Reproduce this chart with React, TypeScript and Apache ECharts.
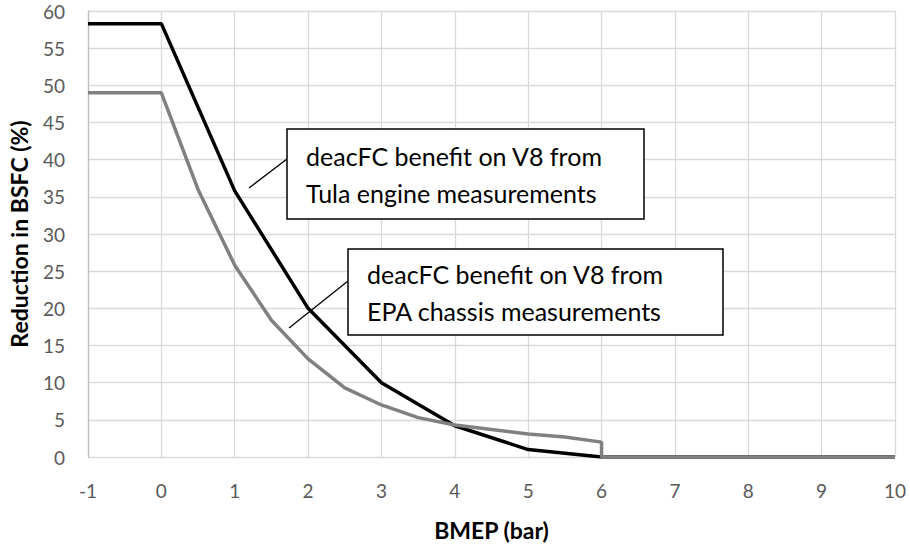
import React, { useEffect, useRef } from "react";
import * as echarts from "echarts";

const tulaX = [-1, 0, 1, 2, 3, 4, 5, 6, 10];
const tulaY = [58.3, 58.3, 35.8, 20.0, 10.0, 4.2, 1.0, 0, 0];
const epaX = [-1, 0, 0.5, 1, 1.5, 2, 2.5, 3, 3.5, 4, 5, 5.5, 6, 6, 10];
const epaY = [49, 49, 36, 25.8, 18.4, 13.2, 9.3, 7.0, 5.3, 4.3, 3.1, 2.7, 2.0, 0, 0];
const annotation1 = ["deacFC benefit on V8 from", "Tula engine measurements"];
const annotation2 = ["deacFC benefit on V8 from", "EPA chassis measurements"];

const FONT = "Lato, 'Liberation Sans', sans-serif";

export default function App() {
  const ref = useRef<HTMLDivElement>(null);
  useEffect(() => {
    if (!ref.current) return;
    const chart = echarts.init(ref.current, null, { renderer: "svg" });
    const box = (x: number, y: number, w: number, h: number, lines: string[], lx1: number, ly1: number, lx2: number, ly2: number) => ({
      type: "group",
      children: [
        { type: "line", shape: { x1: lx1, y1: ly1, x2: lx2, y2: ly2 }, style: { stroke: "#000", lineWidth: 1.3 }, z: 100 },
        { type: "rect", shape: { x, y, width: w, height: h }, style: { fill: "#fff", stroke: "#000", lineWidth: 1.5 }, z: 100 },
        {
          type: "text",
          x: x + 19,
          y: y + h / 2,
          style: { text: lines.join("\n"), font: `25px ${FONT}`, fill: "#000", verticalAlign: "middle", align: "left", lineHeight: 37 },
          z: 101,
        },
      ],
    });
    chart.setOption({
      animation: false,
      backgroundColor: "#fff",
      grid: { left: 88, right: 15, top: 11, bottom: 91, containLabel: false, outerBoundsMode: "none" },
      xAxis: {
        type: "value",
        min: -1,
        max: 10,
        interval: 1,
        name: "BMEP (bar)",
        nameLocation: "middle",
        nameGap: 61,
        nameTextStyle: { fontFamily: FONT, fontSize: 23, fontWeight: "bold", color: "#000" },
        axisLine: { show: false },
        axisTick: { show: false },
        axisLabel: { fontFamily: FONT, fontSize: 19, color: "#595959", margin: 24 },
        splitLine: { show: true, lineStyle: { color: "#d9d9d9", width: 1.3 } },
      },
      yAxis: {
        type: "value",
        min: 0,
        max: 60,
        interval: 5,
        name: "Reduction in BSFC (%)",
        nameLocation: "middle",
        nameGap: 58,
        nameTextStyle: { fontFamily: FONT, fontSize: 23, fontWeight: "bold", color: "#000" },
        axisLine: { show: true, onZero: false, lineStyle: { color: "#bfbfbf", width: 1.3 } },
        axisTick: { show: false },
        axisLabel: { fontFamily: FONT, fontSize: 19, color: "#595959", margin: 23 },
        splitLine: { show: true, lineStyle: { color: "#d9d9d9", width: 1.3 } },
      },
      series: [
        {
          type: "line",
          name: "Tula",
          data: tulaX.map((x, i) => [x, tulaY[i]]),
          symbol: "none",
          lineStyle: { color: "#000", width: 3.5 },
          z: 3,
        },
        {
          type: "line",
          name: "EPA",
          data: epaX.map((x, i) => [x, epaY[i]]),
          symbol: "none",
          lineStyle: { color: "#808080", width: 3.5 },
          z: 4,
        },
      ],
      graphic: [
        box(287, 129, 357, 90, annotation1, 249, 188, 287, 159),
        box(348, 249, 375, 86, annotation2, 289, 328, 348, 281),
      ],
    });
    return () => chart.dispose();
  }, []);
  return <div ref={ref} style={{ width: 910, height: 548, position: "absolute", left: 0, top: 0 }} />;
}
